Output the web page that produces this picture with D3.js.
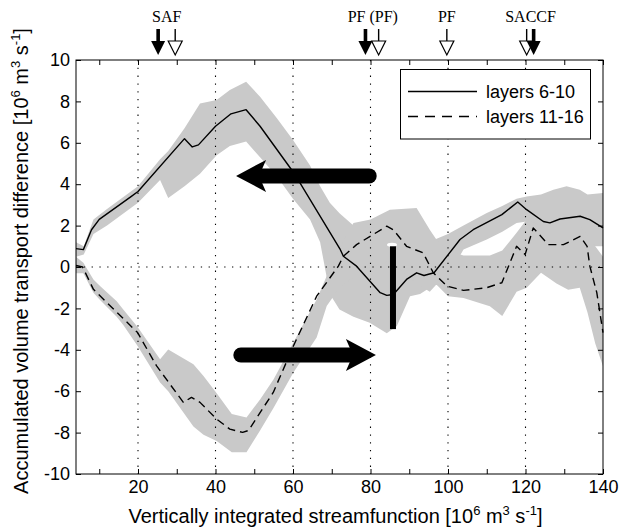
<!DOCTYPE html>
<html><head><meta charset="utf-8">
<script src="https://cdn.jsdelivr.net/npm/d3@7"></script>
<style>body{margin:0;background:#fff}svg{display:block}</style>
</head><body>
<svg id="c" width="619" height="527"></svg>
<script>
// ---------- data ----------
const solidX = [4, 5.9, 8, 10, 18.2, 20, 32, 34, 35.6, 40, 44, 47.9, 51.5, 60, 61.8, 72.1, 73, 76.4, 82.5, 84.2, 85.9, 89.3, 91.9, 93.8, 96.4, 103.1, 106.5, 113.9, 118, 120.3, 124.6, 126.3, 128.9, 134.1, 136.6, 140];
const solidY = [0.89, 0.84, 1.8, 2.3, 3.4, 3.65, 6.2, 5.8, 5.9, 6.8, 7.4, 7.6, 6.8, 4.6, 4.06, 0.88, 0.52, 0.04, -1.24, -1.37, -1.33, -0.6, -0.28, -0.41, -0.28, 1.33, 1.8, 2.53, 3.14, 2.77, 2.2, 2.13, 2.32, 2.45, 2.29, 1.89];

const dashX = [4, 5.7, 8.5, 19.9, 24.8, 31.7, 33.8, 36, 40.3, 43.7, 47, 48.5, 54.9, 60.1, 66.1, 71.7, 73, 76.4, 84.2, 85.9, 89.3, 93.6, 96.2, 99.7, 104, 110, 113.9, 117.7, 119.9, 122, 125.9, 129.8, 134.1, 135.9, 136.6, 138.4, 140];
const dashY = [0.07, 0, -1.08, -3.17, -4.78, -6.54, -6.3, -6.54, -7.35, -7.83, -7.99, -7.9, -6.06, -3.82, -1.41, 0.04, 0.52, 1.08, 1.97, 1.8, 1.0, 0.68, -0.28, -0.92, -1.13, -1.0, -0.76, 1.0, 0.6, 1.89, 1.08, 1.08, 1.48, 1.0, 0.04, -1.24, -3.17];

const bandSolidX     = [4, 6, 8.5, 12, 20, 25.7, 27.8, 32, 36, 40.3, 43.7, 47.9, 51.5, 55.8, 60, 64.4, 67, 69.5, 72, 75.6, 79.8, 84.2, 86.8, 90.2, 92.8, 96.6, 100, 102, 104, 110, 114, 117.7, 120.3, 124, 127.2, 130.6, 134, 136, 140];
const bandSolidUpper = [1.2, 1.0, 2.3, 2.8, 3.9, 5.2, 5.6, 6.7, 7.9, 8.07, 8.55, 8.95, 8.23, 7.2, 6.14, 4.9, 3.9, 3.1, 2.6, 2.0, 1.0, 0.6, 0.6, 0.8, 1.2, 1.33, 1.6, 1.8, 2.0, 2.61, 2.95, 3.3, 3.41, 3.5, 3.73, 3.9, 3.73, 3.5, 3.57];
const bandSolidLower = [0.5, 0.6, 1.6, 2.0, 3.1, 4.2, 3.33, 3.9, 4.5, 5.4, 5.85, 6.06, 5.3, 4.38, 3.3, 2.29, 1.2, -1.3, -2.05, -2.4, -2.69, -3.2, -2.85, -1.41, -1.3, -0.84, -1.0, 0.2, 0.84, 1.33, 1.7, 2.13, 2.2, 1.2, 1.0, 1.0, 1.2, 1.0, 1.0];

const bandDashX     = [4, 5.9, 8.5, 10.2, 14.5, 16.2, 19.9, 25.7, 27.8, 34.3, 36.9, 40.3, 44.2, 48, 51.5, 55, 60.1, 66.1, 68.7, 72, 75.6, 80, 85, 91.9, 95.3, 97, 100, 104, 110.8, 114, 117.7, 120.3, 124, 128, 131, 134, 136, 138, 140];
const bandDashUpper = [0.5, 0.2, -0.6, -0.92, -1.65, -2.05, -2.9, -4.46, -3.98, -4.7, -5.26, -6.1, -7.1, -7.27, -6.4, -5.42, -3.65, -1.57, -0.44, 0.9, 2.13, 2.29, 2.77, 2.85, 1.8, 1.33, 0.8, 0.55, 0.55, 0.8, 1.65, 2.3, 2.0, 2.0, 2.0, 2.0, 1.5, 1.0, 0.5];
const bandDashLower = [-0.3, -0.3, -1.24, -1.6, -2.4, -2.8, -3.82, -5.58, -6.0, -7.7, -8.1, -8.4, -8.95, -8.95, -7.9, -6.8, -5.1, -3.4, -1.89, -1.0, -0.5, 0.0, 0.3, -0.8, -1.2, -0.84, -1.41, -1.5, -1.9, -2.37, -1.2, -1.0, -0.28, -0.8, -1.1, -1.0, -2.2, -3.7, -4.8];

const xTickValues = [10, 20, 30, 40, 50, 60, 70, 80, 90, 100, 110, 120, 130, 140];
const yTickValues = [-10, -8, -6, -4, -2, 0, 2, 4, 6, 8, 10];
const xGridValues = [20, 40, 60, 80, 100, 120];

const filledFrontX = [25.2, 78.7, 122.1];
const openFrontX = [29.6, 82.1, 99.7, 120.3];
const frontLabels = ["SAF", "PF (PF)", "PF", "SACCF"];
const frontLabelX = [27.4, 80.6, 99.7, 121.3];

const arrowTailX = [81.6, 44.6];
const arrowTipX = [45.3, 81.4];
const arrowY = [4.4, -4.25];

const barX = [85.8];
const barTop = [1.0];
const barBottom = [-3.0];

const legendLabels = ["layers 6-10", "layers 11-16"];

// ---------- layout ----------
const svg = d3.select("#c");
const L = 76, R = 603, T = 60, B = 474;
const x = d3.scaleLinear().domain([4, 140]).range([L, R]);
const y = d3.scaleLinear().domain([-10, 10]).range([B, T]);
const SANS = "'Liberation Sans', Arial, Helvetica, sans-serif";
const SERIF = "'Liberation Serif', 'Times New Roman', serif";
const GRAY = "#c9c9c9";

// bands
const zip3 = (a, b, c) => a.map((v, i) => [v, b[i], c[i]]);
const area = d3.area().x(d => x(d[0])).y0(d => y(d[2])).y1(d => y(d[1]));
svg.append("path").datum(zip3(bandSolidX, bandSolidUpper, bandSolidLower))
  .attr("d", area).attr("fill", GRAY);
svg.append("path").datum(zip3(bandDashX, bandDashUpper, bandDashLower))
  .attr("d", area).attr("fill", GRAY);

// grid
const gridG = svg.append("g").attr("stroke", "#000").attr("stroke-width", 1.1)
  .attr("stroke-dasharray", "1.3,6.5").attr("fill", "none");
xGridValues.forEach(v => {
  gridG.append("line").attr("x1", x(v)).attr("x2", x(v)).attr("y1", y(10)).attr("y2", y(-10));
});
gridG.append("line").attr("x1", x(4)).attr("x2", x(140)).attr("y1", y(0)).attr("y2", y(0));

// lines
const line = d3.line().x(d => x(d[0])).y(d => y(d[1]));
const zip2 = (a, b) => a.map((v, i) => [v, b[i]]);
svg.append("path").datum(zip2(solidX, solidY)).attr("d", line)
  .attr("fill", "none").attr("stroke", "#000").attr("stroke-width", 1.4).attr("stroke-linejoin", "round");
svg.append("path").datum(zip2(dashX, dashY)).attr("d", line)
  .attr("fill", "none").attr("stroke", "#000").attr("stroke-width", 1.4)
  .attr("stroke-dasharray", "8,5").attr("stroke-linejoin", "round");

// big arrows
const shaftW = 15, headL = 27, headH = 16;
arrowTailX.forEach((tx, i) => {
  const tail = x(tx), tip = x(arrowTipX[i]), yy = y(arrowY[i]);
  const dir = Math.sign(tip - tail);
  const base = tip - dir * headL;
  svg.append("line").attr("x1", tail + dir * shaftW / 2).attr("x2", base + dir * 2)
    .attr("y1", yy).attr("y2", yy).attr("stroke", "#000").attr("stroke-width", shaftW)
    .attr("stroke-linecap", "round");
  svg.append("path").attr("d", `M${tip},${yy} L${base - dir * 3},${yy - headH} L${base + dir * 4},${yy} L${base - dir * 3},${yy + headH} Z`)
    .attr("fill", "#000");
});

// vertical bar (with the small white halo at its top)
barX.forEach((bx, i) => {
  svg.append("ellipse").attr("cx", x(bx) - 1).attr("cy", y(barTop[i]) - 1.5).attr("rx", 5).attr("ry", 2)
    .attr("fill", "#fff");
  svg.append("rect").attr("x", x(bx) - 3).attr("width", 6)
    .attr("y", y(barTop[i])).attr("height", y(barBottom[i]) - y(barTop[i])).attr("fill", "#000");
});

// axes
const fmtX = d => (d % 20 === 0 ? d : "");
const axB = svg.append("g").attr("transform", `translate(0,${B})`)
  .call(d3.axisBottom(x).tickValues(xTickValues).tickSizeInner(-5).tickSizeOuter(0).tickPadding(6).tickFormat(fmtX));
const axT = svg.append("g").attr("transform", `translate(0,${T})`)
  .call(d3.axisTop(x).tickValues(xTickValues).tickSizeInner(-5).tickSizeOuter(0).tickFormat(""));
const axL = svg.append("g").attr("transform", `translate(${L},0)`)
  .call(d3.axisLeft(y).tickValues(yTickValues).tickSizeInner(-5).tickSizeOuter(0).tickPadding(6).tickFormat(d3.format("d")));
const axR = svg.append("g").attr("transform", `translate(${R},0)`)
  .call(d3.axisRight(y).tickValues(yTickValues).tickSizeInner(-5).tickSizeOuter(0).tickFormat(""));
[axB, axT, axL, axR].forEach(g => {
  g.select(".domain").remove();
  g.selectAll("line").attr("stroke", "#000");
  g.selectAll("text").attr("font-family", SANS).attr("font-size", 18).attr("fill", "#000");
});
axL.selectAll("text").text(d => (d < 0 ? "-" + Math.abs(d) : d));
svg.append("rect").attr("x", L).attr("y", T).attr("width", R - L).attr("height", B - T)
  .attr("fill", "none").attr("stroke", "#000").attr("stroke-width", 1);

// legend
const lg = svg.append("g");
lg.append("rect").attr("x", 400.5).attr("y", 69.5).attr("width", 190).attr("height", 69.5)
  .attr("fill", "#fff").attr("stroke", "#000").attr("stroke-width", 1);
legendLabels.forEach((lab, i) => {
  const yy = 91.5 + i * 25;
  lg.append("line").attr("x1", 408).attr("x2", 477).attr("y1", yy).attr("y2", yy)
    .attr("stroke", "#000").attr("stroke-width", 1.4).attr("stroke-dasharray", i === 0 ? null : "10,7");
  lg.append("text").attr("x", 486).attr("y", yy + 6).text(lab)
    .attr("font-family", SANS).attr("font-size", 18).attr("fill", "#000");
});

// axis labels
function unitLabel(sel, prefix) {
  sel.append("tspan").text(prefix + "[10");
  sel.append("tspan").text("6").attr("font-size", 13).attr("dy", -8);
  sel.append("tspan").text(" m").attr("dy", 8);
  sel.append("tspan").text("3").attr("font-size", 13).attr("dy", -8);
  sel.append("tspan").text(" s").attr("dy", 8);
  sel.append("tspan").text("-1").attr("font-size", 13).attr("dy", -8);
  sel.append("tspan").text("]").attr("dy", 8);
}
const xl = svg.append("text").attr("x", (L + R) / 2 - 4).attr("y", 523).attr("text-anchor", "middle")
  .attr("font-family", SANS).attr("font-size", 20).attr("fill", "#000");
unitLabel(xl, "Vertically integrated streamfunction ");
const yl = svg.append("text").attr("transform", "translate(28,261) rotate(-90)").attr("text-anchor", "middle")
  .attr("font-family", SANS).attr("font-size", 20).attr("fill", "#000");
unitLabel(yl, "Accumulated volume transport difference ");

// front markers at top
const mk = svg.append("g");
const sTop = 29, hBase = 41, hTip = 55, hw = 7;
openFrontX.forEach(v => {
  const cx = x(v);
  mk.append("line").attr("x1", cx).attr("x2", cx).attr("y1", sTop).attr("y2", hBase)
    .attr("stroke", "#000").attr("stroke-width", 1.4);
  mk.append("path").attr("d", `M${cx - hw},${hBase} L${cx + hw},${hBase} L${cx},${hTip} Z`)
    .attr("fill", "#fff").attr("stroke", "#000").attr("stroke-width", 1.2).attr("stroke-linejoin", "miter");
});
filledFrontX.forEach(v => {
  const cx = x(v);
  mk.append("rect").attr("x", cx - 1.8).attr("width", 3.6).attr("y", sTop).attr("height", hBase - sTop + 1)
    .attr("fill", "#000");
  mk.append("path").attr("d", `M${cx - hw},${hBase} L${cx + hw},${hBase} L${cx},${hTip} Z`)
    .attr("fill", "#000");
});
frontLabels.forEach((t, i) => {
  mk.append("text").attr("x", x(frontLabelX[i])).attr("y", 22).attr("text-anchor", "middle")
    .text(t).attr("font-family", SERIF).attr("font-size", 16).attr("fill", "#000");
});
</script>
</body></html>
